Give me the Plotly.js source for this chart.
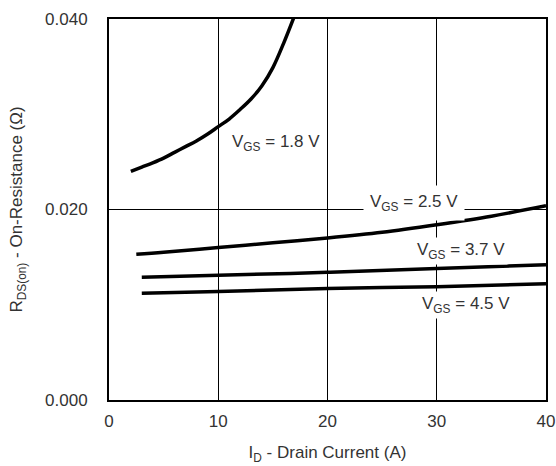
<!DOCTYPE html>
<html>
<head>
<meta charset="utf-8">
<script src="https://cdn.plot.ly/plotly-3.0.1.min.js"></script>
<style>html,body{margin:0;padding:0;background:#fff;}</style>
</head>
<body>
<div id="chart" style="width:556px;height:466px;"></div>
<script>
// Drain current (A) and on-resistance (ohm) per gate voltage
const id18 = [2, 3, 4, 5, 6, 7, 8, 9, 10, 11, 12, 13, 14, 15, 16, 17];
const r18  = [0.0240, 0.02445, 0.0249, 0.0254, 0.0260, 0.0266, 0.0272, 0.0279, 0.0287, 0.0295, 0.0305, 0.0316, 0.0330, 0.0349, 0.0375, 0.0404];
const id25 = [2.5, 5, 10, 15, 20, 25, 30, 35, 40];
const r25  = [0.0153, 0.0155, 0.0160, 0.0165, 0.0170, 0.0176, 0.0184, 0.0193, 0.0204];
const id37 = [3, 10, 20, 30, 40];
const r37  = [0.0129, 0.0131, 0.0134, 0.0138, 0.0142];
const id45 = [3, 10, 20, 30, 40];
const r45  = [0.0112, 0.0114, 0.0117, 0.0119, 0.0122];

const labels = ["V<sub>GS</sub> = 1.8 V", "V<sub>GS</sub> = 2.5 V", "V<sub>GS</sub> = 3.7 V", "V<sub>GS</sub> = 4.5 V"];
const labelX = [10.9, 23.25, 27.9, 28.35];
const labelY = [0.0270, 0.0207, 0.01565, 0.0100];
const labelPad = [3, 6, 2, 2];

const xTicks = [0, 10, 20, 30, 40];
const yTicks = [0, 0.02, 0.04];

const lineStyle = {color: '#000', width: 3.5, shape: 'spline', smoothing: 1};
const series = [[id18, r18], [id25, r25], [id37, r37], [id45, r45]];
const traces = series.map(s => ({
  x: s[0], y: s[1], type: 'scatter', mode: 'lines', line: lineStyle, hoverinfo: 'skip'
}));

const font = {family: 'Liberation Sans, Arial, Helvetica, sans-serif', size: 17, color: '#333'};

const layout = {
  width: 556, height: 466,
  margin: {l: 109, r: 10, t: 19, b: 66},
  paper_bgcolor: '#fff', plot_bgcolor: '#fff',
  showlegend: false,
  font: font,
  xaxis: {
    range: [0, 40], tickvals: xTicks, ticktext: xTicks.map(String),
    showgrid: true, gridcolor: '#000', gridwidth: 1, zeroline: false,
    showline: true, linecolor: '#000', linewidth: 2, mirror: true,
    ticks: '', ticklabelstandoff: 5,
    title: {text: 'I<sub>D</sub> - Drain Current (A)', font: font, standoff: 16},
    fixedrange: true
  },
  yaxis: {
    range: [0, 0.04], tickvals: yTicks, ticktext: yTicks.map(v => v.toFixed(3)),
    showgrid: true, gridcolor: '#000', gridwidth: 1, zeroline: false,
    showline: true, linecolor: '#000', linewidth: 2, mirror: true,
    ticks: '', ticklabelstandoff: 16,
    title: {text: 'R<sub>DS(on)</sub> - On-Resistance (Ω)', font: font, standoff: 18},
    fixedrange: true
  },
  annotations: labels.map((t, i) => ({
    x: labelX[i], y: labelY[i], xref: 'x', yref: 'y', text: t,
    showarrow: false, xanchor: 'left', yanchor: 'middle',
    bgcolor: '#fff', borderpad: labelPad[i], font: font
  }))
};

Plotly.newPlot('chart', traces, layout, {staticPlot: true, displayModeBar: false});
</script>
</body>
</html>
